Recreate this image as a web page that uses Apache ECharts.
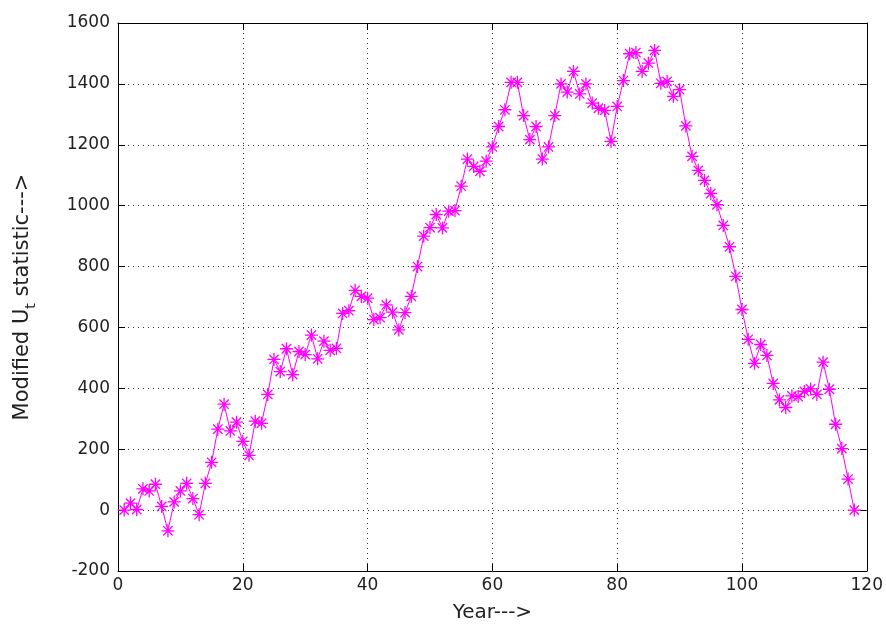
<!DOCTYPE html>
<html>
<head>
<meta charset="utf-8">
<script src="https://cdn.jsdelivr.net/npm/echarts@6/dist/echarts.min.js"></script>
<style>html,body{margin:0;padding:0;background:#fff;}#c{width:886px;height:630px;}</style>
</head>
<body>
<div id="c"></div>
<script>
// Modified U_t statistic values for years 1..118
const values = [
  0, 23, 2, 70, 63, 85, 12, -68, 27, 63,
  88, 38, -15, 88, 157, 266, 348, 260, 289, 226,
  180, 292, 285, 380, 495, 455, 530, 445, 521, 511,
  575, 497, 555, 525, 531, 646, 655, 722, 702, 696,
  626, 632, 674, 650, 592, 649, 702, 800, 900, 928,
  971, 927, 982, 984, 1064, 1153, 1129, 1113, 1146, 1193,
  1260, 1315, 1405, 1405, 1296, 1217, 1260, 1153, 1193, 1296,
  1400, 1373, 1441, 1367, 1400, 1337, 1320, 1313, 1211, 1326,
  1411, 1499, 1503, 1441, 1468, 1510, 1402, 1408, 1359, 1381,
  1262, 1162, 1116, 1083, 1040, 1003, 935, 865, 768, 659,
  561, 482, 544, 508, 416, 362, 337, 375, 373, 390,
  398, 380, 486, 397, 282, 202, 102, 0
];
const years = values.map((v, i) => i + 1);
const xTicks = [0, 20, 40, 60, 80, 100, 120];
const yTicks = [-200, 0, 200, 400, 600, 800, 1000, 1200, 1400, 1600];

const FONT = 'DejaVu Sans';
const TXT = '#222';
const chart = echarts.init(document.getElementById('c'), null, {renderer: 'canvas'});
const star = 'path://M0,-1L0,1M-1,0L1,0M-0.72,-0.72L0.72,0.72M-0.72,0.72L0.72,-0.72';
const plain = v => String(v);

const gridLine = {show: true, lineStyle: {color: '#333', width: 1, type: [1, 4]}};
chart.setOption({
  animation: false,
  backgroundColor: '#fff',
  grid: {left: 118, right: 19, top: 23, bottom: 59, show: false},
  xAxis: [{
    type: 'value', position: 'bottom',
    min: xTicks[0], max: xTicks[xTicks.length - 1], interval: 20,
    axisLine: {show: true, onZero: false, lineStyle: {color: '#000', width: 1}},
    axisTick: {show: true, inside: true, length: 7, lineStyle: {color: '#000'}},
    axisLabel: {color: TXT, fontFamily: FONT, fontSize: 17, margin: 6, formatter: plain},
    splitLine: gridLine,
    name: 'Year--->', nameLocation: 'middle', nameGap: 32,
    nameTextStyle: {color: TXT, fontFamily: FONT, fontSize: 20}
  }, {
    type: 'value', position: 'top',
    min: xTicks[0], max: xTicks[xTicks.length - 1], interval: 20,
    axisLine: {show: true, onZero: false, lineStyle: {color: '#000', width: 1}},
    axisTick: {show: true, inside: true, length: 7, lineStyle: {color: '#000'}},
    axisLabel: {show: false}, splitLine: {show: false}
  }],
  yAxis: [{
    type: 'value', position: 'left',
    min: yTicks[0], max: yTicks[yTicks.length - 1], interval: 200,
    axisLine: {show: true, onZero: false, lineStyle: {color: '#000', width: 1}},
    axisTick: {show: true, inside: true, length: 7, lineStyle: {color: '#000'}},
    axisLabel: {color: TXT, fontFamily: FONT, fontSize: 17, margin: 8, formatter: plain},
    splitLine: gridLine,
    name: '{a|Modified U}{b|t}{a| statistic--->}',
    nameLocation: 'middle', nameGap: 80, nameRotate: 90,
    nameTextStyle: {
      color: TXT, fontFamily: FONT, fontSize: 21,
      rich: {
        a: {color: TXT, fontFamily: FONT, fontSize: 21, lineHeight: 30, verticalAlign: 'middle'},
        b: {color: TXT, fontFamily: FONT, fontSize: 14, lineHeight: 13, verticalAlign: 'bottom'}
      }
    }
  }, {
    type: 'value', position: 'right',
    min: yTicks[0], max: yTicks[yTicks.length - 1], interval: 200,
    axisLine: {show: true, onZero: false, lineStyle: {color: '#000', width: 1}},
    axisTick: {show: true, inside: true, length: 7, lineStyle: {color: '#000'}},
    axisLabel: {show: false}, splitLine: {show: false}
  }],
  series: [{
    type: 'line',
    xAxisIndex: 0, yAxisIndex: 0,
    data: years.map((y, i) => [y, values[i]]),
    symbol: star, symbolSize: 13, showAllSymbol: true,
    lineStyle: {color: '#ff00ff', width: 1},
    itemStyle: {color: 'none', borderColor: '#ff00ff', borderWidth: 1.3},
    emphasis: {disabled: true}
  }]
});
</script>
</body>
</html>
